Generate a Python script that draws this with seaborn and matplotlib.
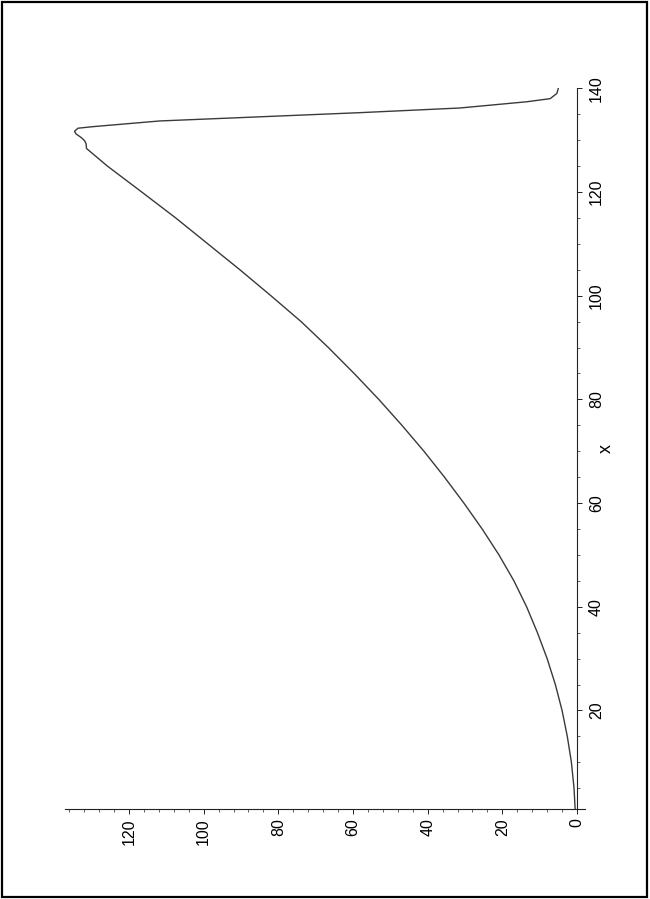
import matplotlib
matplotlib.use("Agg")
import matplotlib.pyplot as plt
import seaborn as sns
import pandas as pd
from matplotlib.patches import Rectangle
from matplotlib.ticker import MultipleLocator

x_vals = [1.0, 5, 10, 15, 20, 25, 30, 35, 40, 45, 50, 55, 60, 65, 70, 75, 80, 85, 90, 95,
          100, 105, 110, 115, 120, 125, 128.4, 129.3, 129.9, 130.5, 131.2, 131.7, 132.3, 132.6,
          133.7, 134.5, 135.3, 136.2, 137.4, 138.0, 139.0, 140.0]
y_vals = [0.5, 0.8, 1.5, 2.6, 4.0, 5.8, 8.0, 10.6, 13.5, 16.9, 20.9, 25.4, 30.3, 35.5, 41.0,
          46.9, 53.1, 59.7, 66.6, 73.9, 82.0, 90.3, 98.9, 107.5, 116.6, 125.8, 131.4, 131.5,
          131.9, 132.8, 134.2, 134.6, 133.7, 129.7, 111.8, 85.0, 58.2, 31.4, 13.5, 7.2, 5.4, 5.0]

x_ticks = [20, 40, 60, 80, 100, 120, 140]
y_ticks = [0, 20, 40, 60, 80, 100, 120]

df = pd.DataFrame({"x": x_vals, "y": y_vals})

sns.set_style("white")
plt.rcParams["font.family"] = ["Liberation Sans", "DejaVu Sans"]

fig = plt.figure(figsize=(6.5, 8.99), dpi=100)
ax = fig.add_axes([65 / 650, 1 - 809 / 899, 520 / 650, (809 - 88.3) / 899])

# page is turned a quarter: the y values run right-to-left, x runs bottom-to-top
sns.lineplot(data=df, x="y", y="x", sort=False, estimator=None, ax=ax,
             color="#3a3a3a", linewidth=1.0)

ax.set_xlim(137.15, -2.14)
ax.set_ylim(1.0, 140)

for side in ["left", "top"]:
    ax.spines[side].set_visible(False)
ax.spines["right"].set_position(("data", 0))
for side in ["right", "bottom"]:
    ax.spines[side].set_color("#222222")
    ax.spines[side].set_linewidth(0.8)

ax.yaxis.tick_right()
ax.yaxis.set_label_position("right")
ax.set_xticks(y_ticks)
ax.set_yticks(x_ticks)
ax.xaxis.set_minor_locator(MultipleLocator(4))
ax.yaxis.set_minor_locator(MultipleLocator(5))
ax.tick_params(which="major", direction="out", length=3.5, width=0.7, color="#222222",
               labelsize=11.5, labelcolor="black")
ax.tick_params(axis="y", which="major", pad=5)
ax.tick_params(axis="x", which="major", pad=3)
ax.tick_params(which="minor", direction="out", length=2.5, width=0.6, color="#444444")
ax.tick_params(axis="y", which="both", left=False, right=True)
ax.tick_params(axis="x", which="both", bottom=True, top=False)
plt.setp(ax.get_yticklabels(), rotation=90, va="center")
plt.setp(ax.get_xticklabels(), rotation=90)

ax.set_xlabel("")
ax.set_ylabel("x", fontsize=13, rotation=90, labelpad=-4, color="black")
ax.grid(False)

# black frame round the page
fig.add_artist(Rectangle((2 / 650, 2 / 899), 645 / 650, 895 / 899, transform=fig.transFigure,
                         fill=False, edgecolor="black", linewidth=1.6))

fig.savefig("out.png", dpi=100)
